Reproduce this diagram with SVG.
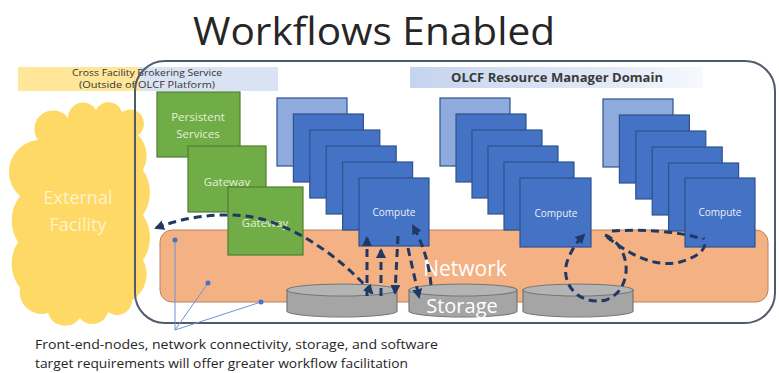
<svg xmlns="http://www.w3.org/2000/svg" width="779" height="373" viewBox="0 0 779 373">
<defs>
<style>
.t{font-family:"Open Sans","Liberation Sans",sans-serif}
.g{fill:#70AD47;stroke:#507E32;stroke-width:1.2}
.gl{fill:#E2F0D9;font-size:11.5px;text-anchor:middle}
.cb{fill:#4472C4;stroke:#2F528F;stroke-width:1.2}
.cl{fill:#8FAADC;stroke:#2F528F;stroke-width:1.2}
.ct{fill:#EAF0FA;font-size:10px;text-anchor:middle}
.cyl{fill:#A5A5A5;stroke:#767676;stroke-width:1.2}
.cyt{fill:#B4B4B4;stroke:#767676;stroke-width:1.2}
.d{fill:none;stroke:#203864;stroke-width:3;stroke-dasharray:8 5}
.bl{stroke:#6F93D6;stroke-width:1;fill:none}
.dot{fill:#4472C4}
</style>
<marker id="ah" markerUnits="userSpaceOnUse" markerWidth="10" markerHeight="10" viewBox="0 0 10 10" refX="8" refY="5" orient="auto-start-reverse">
<path d="M0,0 L10,5 L0,10 z" fill="#203864"/>
</marker>
<linearGradient id="olcf" x1="0" x2="1" y1="0" y2="0">
<stop offset="0" stop-color="#C5D4EE"/>
<stop offset="0.7" stop-color="#E3EAF6"/>
<stop offset="1" stop-color="#F7F9FD"/>
</linearGradient>
</defs>
<rect width="779" height="373" fill="#FFFFFF"/>

<text class="t" x="374" y="45" font-size="38" fill="#262626" text-anchor="middle" textLength="362" lengthAdjust="spacingAndGlyphs">Workflows Enabled</text>

<g id="external-facility">
<path fill="#FFD966" d="M38,140 A18,18 0 0 1 68,118 A15,15 0 0 1 96,110 A14,14 0 0 1 122,112 A14,14 0 0 1 138,135 A30,30 0 0 1 143,170 A40,40 0 0 1 143,215 A40,40 0 0 1 143,260 A30,30 0 0 1 132,300 A15,15 0 0 1 108,312 A16,16 0 0 1 80,318 A18,18 0 0 1 48,313 A22,22 0 0 1 20,288 A40,40 0 0 1 18,242 A40,40 0 0 1 20,196 A32,32 0 0 1 38,140 Z"/>
<text class="t" x="78" y="204" font-size="18" fill="#FFF2CC" text-anchor="middle">External</text>
<text class="t" x="78" y="231" font-size="18" fill="#FFF2CC" text-anchor="middle">Facility</text>
</g>

<g id="brokering-band">
<rect x="18" y="67" width="122" height="24" fill="#FFE699"/>
<rect x="140" y="67" width="138" height="24" fill="#DAE3F3"/>
<text class="t" x="147" y="76" font-size="9" fill="#333" text-anchor="middle" textLength="150" lengthAdjust="spacingAndGlyphs">Cross Facility Brokering Service</text>
<text class="t" x="147" y="88" font-size="9" fill="#333" text-anchor="middle" textLength="136" lengthAdjust="spacingAndGlyphs">(Outside of OLCF Platform)</text>
</g>

<g id="olcf-domain">
<rect x="135" y="61" width="640" height="262" rx="30" fill="none" stroke="#4F5B6B" stroke-width="2"/>
<rect x="410" y="67" width="293" height="21" fill="url(#olcf)"/>
<text class="t" x="557" y="81.5" font-size="12" font-weight="bold" fill="#3A3A3A" text-anchor="middle" textLength="212" lengthAdjust="spacingAndGlyphs">OLCF Resource Manager Domain</text>
</g>

<g id="network">
<rect x="160" y="230" width="608" height="72" rx="12" fill="#F4B183" stroke="#B88462" stroke-width="1"/>
<text class="t" x="465" y="276" font-size="21" fill="#FFFFFF" text-anchor="middle">Network</text>
</g>

<g id="persistent-services">
<rect class="g" x="157" y="92" width="83" height="65"/>
<text class="t gl" x="198" y="121">Persistent</text>
<text class="t gl" x="198" y="138">Services</text>
</g>
<g id="gateway-1">
<rect class="g" x="188" y="146" width="78" height="66"/>
<text class="t gl" x="227" y="186">Gateway</text>
</g>
<g id="gateway-2">
<rect class="g" x="228" y="187" width="75" height="68"/>
<text class="t gl" x="265" y="227">Gateway</text>
</g>

<g id="compute-stack-1">
<rect class="cl" x="277" y="98" width="70" height="68"/>
<rect class="cb" x="293.4" y="114" width="70" height="68"/>
<rect class="cb" x="309.8" y="130" width="70" height="68"/>
<rect class="cb" x="326.2" y="146" width="70" height="68"/>
<rect class="cb" x="342.6" y="162" width="70" height="68"/>
<rect class="cb" x="359" y="178" width="70" height="68"/>
<text class="t ct" x="394" y="216">Compute</text>
</g>
<g id="compute-stack-2">
<rect class="cl" x="440" y="98" width="70" height="68"/>
<rect class="cb" x="456" y="114" width="70" height="68"/>
<rect class="cb" x="472" y="130" width="70" height="68"/>
<rect class="cb" x="488" y="146" width="70" height="68"/>
<rect class="cb" x="504" y="162" width="70" height="68"/>
<rect class="cb" x="520" y="178" width="71" height="69"/>
<text class="t ct" x="556" y="217">Compute</text>
</g>
<g id="compute-stack-3">
<rect class="cl" x="603" y="99" width="70" height="68"/>
<rect class="cb" x="619.4" y="115" width="70" height="68"/>
<rect class="cb" x="635.8" y="131" width="70" height="68"/>
<rect class="cb" x="652.2" y="147" width="70" height="68"/>
<rect class="cb" x="668.6" y="163" width="70" height="68"/>
<rect class="cb" x="685" y="178" width="70" height="69"/>
<text class="t ct" x="720" y="216">Compute</text>
</g>

<g id="storage">
<path class="cyl" d="M287,290 L287,311 A55,6 0 0 0 397,311 L397,290 Z"/>
<ellipse class="cyt" cx="342" cy="290" rx="55" ry="6"/>
<path class="cyl" d="M409,290 L409,311 A54,6 0 0 0 517,311 L517,290 Z"/>
<ellipse class="cyt" cx="463" cy="290" rx="54" ry="6"/>
<path class="cyl" d="M523,290 L523,311 A55,6 0 0 0 633,311 L633,290 Z"/>
<ellipse class="cyt" cx="578" cy="290" rx="55" ry="6"/>
<text class="t" x="462" y="313" font-size="20" fill="#FFFFFF" text-anchor="middle">Storage</text>
</g>

<g id="connectors">
<path class="d" d="M372,293 C345,262 305,232 265,220 C235,211 192,214 156,228" marker-end="url(#ah)" marker-start="url(#ah)"/>
<path class="d" d="M367,296 L367,238" marker-end="url(#ah)"/>
<path class="d" d="M381,296 L381,250" marker-end="url(#ah)"/>
<path class="d" d="M398,236 L395,293" marker-end="url(#ah)"/>
<path class="d" d="M408,248 L419,297" marker-end="url(#ah)"/>
<path class="d" d="M431,285 C429,262 422,242 413,226" marker-end="url(#ah)"/>
<path class="d" d="M605,235 C632,246 634,290 606,300 C580,306 560,285 567,262 C571,250 577,242 584,235" marker-end="url(#ah)"/>
<path class="d" d="M607,237 C630,255 655,268 680,262 C700,256 709,248 703,238"/>
<path class="d" d="M612,231 C640,229 680,231 702,239"/>
<path class="bl" d="M175,330 L175,240 M175,330 L208,283 M175,330 L261,302"/>
<circle class="dot" cx="175" cy="240" r="2.5"/>
<circle class="dot" cx="208" cy="283" r="2.5"/>
<circle class="dot" cx="261" cy="302" r="2.5"/>
</g>

<g id="caption">
<text class="t" x="35" y="349" font-size="12.5" fill="#262626" textLength="403" lengthAdjust="spacingAndGlyphs">Front-end-nodes, network connectivity, storage, and software</text>
<text class="t" x="35" y="368" font-size="12.5" fill="#262626" textLength="373" lengthAdjust="spacingAndGlyphs">target requirements will offer greater workflow facilitation</text>
</g>
</svg>
